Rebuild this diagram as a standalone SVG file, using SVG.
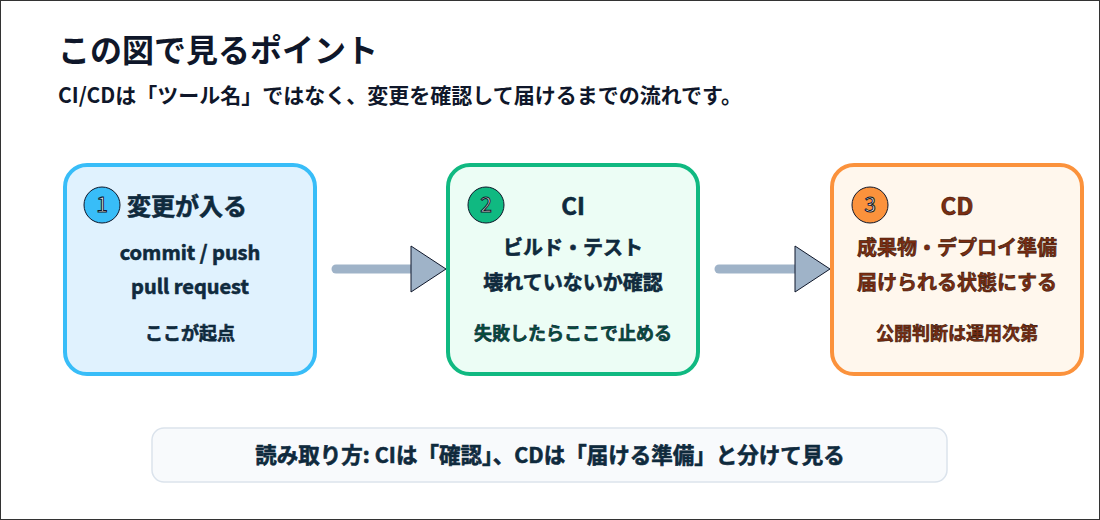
<svg xmlns="http://www.w3.org/2000/svg" width="1100" height="520" viewBox="0 0 1100 520">
<style>
text{font-family:"Noto Sans CJK JP","Noto Sans",sans-serif;font-weight:700}
.t{fill:#0f2a3d;stroke:#0f2a3d;stroke-width:0.6}
.c{fill:#7c2d12;stroke:#3b1a0a;stroke-width:0.6}
.n{fill:#fff;stroke:#0f172a;stroke-width:1;font-size:21px;font-weight:400}
.box{stroke-width:4}
.num{stroke:#0f172a;stroke-width:1}
</style>
<rect x="0.5" y="0.5" width="1099" height="519" fill="#fff" stroke="#333"/>
<text x="58" y="62" font-size="32" fill="#0f172a">この図で見るポイント</text>
<text x="58" y="103" font-size="21" fill="#0f172a">CI/CDは「ツール名」ではなく、変更を確認して届けるまでの流れです。</text>
<g id="connectors" fill="#9fb3c8" stroke="#9fb3c8">
<line x1="336" y1="269" x2="412" y2="269" stroke-width="9" stroke-linecap="round"/>
<polygon points="411,246 446,269 411,292" stroke="#0f172a" stroke-width="1"/>
<line x1="719" y1="269" x2="795" y2="269" stroke-width="9" stroke-linecap="round"/>
<polygon points="795,246 830,269 795,292" stroke="#0f172a" stroke-width="1"/>
</g>
<g id="node1">
<rect class="box" x="65" y="165" width="250" height="209" rx="22" fill="#e0f2fe" stroke="#38bdf8"/>
<circle class="num" cx="102" cy="205" r="18" fill="#38bdf8"/>
<text class="n" x="102" y="212" text-anchor="middle">1</text>
<text class="t" x="127" y="215" font-size="24">変更が入る</text>
<text class="t" x="190" y="260" font-size="20" text-anchor="middle">commit / push</text>
<text class="t" x="190" y="294" font-size="20" text-anchor="middle">pull request</text>
<text class="t" x="190" y="340" font-size="18" text-anchor="middle">ここが起点</text>
</g>
<g id="node2">
<rect class="box" x="448" y="165" width="250" height="209" rx="22" fill="#ecfdf5" stroke="#10b981"/>
<circle class="num" cx="486" cy="205" r="18" fill="#10b981"/>
<text class="n" x="486" y="212" text-anchor="middle">2</text>
<text class="t" x="573" y="215" font-size="24" text-anchor="middle">CI</text>
<text class="t" x="573" y="255" font-size="20" text-anchor="middle">ビルド・テスト</text>
<text class="t" x="573" y="290" font-size="20" text-anchor="middle">壊れていないか確認</text>
<text class="t" x="573" y="340" font-size="18" text-anchor="middle" style="fill:#064e3b">失敗したらここで止める</text>
</g>
<g id="node3">
<rect class="box" x="832" y="165" width="250" height="209" rx="22" fill="#fff7ed" stroke="#fb923c"/>
<circle class="num" cx="870" cy="205" r="18" fill="#fb923c"/>
<text class="n" x="870" y="212" text-anchor="middle">3</text>
<text class="c" x="957" y="215" font-size="24" text-anchor="middle">CD</text>
<text class="c" x="957" y="255" font-size="20" text-anchor="middle">成果物・デプロイ準備</text>
<text class="c" x="957" y="290" font-size="20" text-anchor="middle">届けられる状態にする</text>
<text class="c" x="957" y="340" font-size="18" text-anchor="middle">公開判断は運用次第</text>
</g>
<g id="note">
<rect x="152" y="428" width="795" height="54" rx="12" fill="#f8fafc" stroke="#dbe3ec" stroke-width="1.5"/>
<text class="t" x="550" y="463" font-size="21.5" text-anchor="middle">読み取り方: CIは「確認」、CDは「届ける準備」と分けて見る</text>
</g>
</svg>
